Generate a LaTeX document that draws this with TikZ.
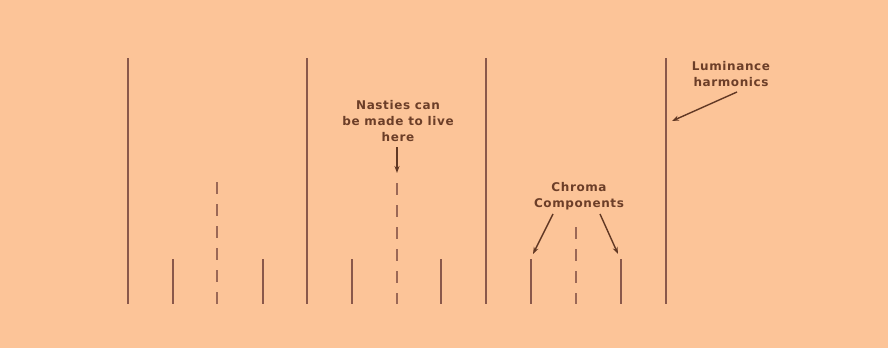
\documentclass[tikz,border=0pt]{standalone}
\usepackage{fontspec}
\newfontfamily\labfont[LetterSpace=5]{DejaVu Sans Bold}
\usetikzlibrary{arrows.meta}
\definecolor{bg}{RGB}{252,196,152}
\definecolor{ln}{RGB}{138,88,74}
\definecolor{tx}{RGB}{108,62,40}
\tikzset{
  harm/.style={draw=ln, line width=1.9pt},
  chrom/.style={draw=ln, line width=1.6pt},
  nasty/.style={draw=ln!85!bg, line width=1.9pt, dash pattern=on 12pt off 10pt},
  lab/.style={text=tx, font=\labfont\fontsize{12}{16}\selectfont, align=center, inner sep=0pt},
  ptr/.style={draw=tx!90!black, line width=1.4pt, -{Stealth[length=7pt,width=5pt]}}
}
\begin{document}
\begin{tikzpicture}[x=1pt,y=-1pt]
\fill[bg] (0,0) rectangle (888,348);
\useasboundingbox (0,0) rectangle (888,348);
% luminance harmonics
\foreach \n/\x in {h1/128,h2/307,h3/486,h4/666}{
  \coordinate (\n t) at (\x,58); \coordinate (\n b) at (\x,304);
  \draw[harm] (\n t) -- (\n b);
}
% chroma components
\foreach \n/\x in {c1/173,c2/263,c3/352,c4/441,c5/531,c6/621}{
  \coordinate (\n t) at (\x,259); \coordinate (\n b) at (\x,304);
  \draw[chrom] (\n t) -- (\n b);
}
% dashed (nasties)
\foreach \n/\x/\t in {d1/217/182,d2/397/183,d3/576/227}{
  \coordinate (\n t) at (\x,\t); \coordinate (\n b) at (\x,304);
  \draw[nasty] (\n t) -- (\n b);
}
% labels
\node[lab] (nasties) at (398,121) {Nasties can\\be made to live\\here};
\node[lab] (chroma) at (579,196) {Chroma\\Components};
\node[lab] (lum) at (731,74) {Luminance\\harmonics};
% pointers
\coordinate (na) at (397,147); \coordinate (nb) at (397,173);
\draw[ptr] (na) -- (nb);
\coordinate (ca1) at (553,214); \coordinate (cb1) at (533,254);
\draw[ptr] (ca1) -- (cb1);
\coordinate (ca2) at (600,214); \coordinate (cb2) at (618,254);
\draw[ptr] (ca2) -- (cb2);
\coordinate (la) at (737,92); \coordinate (lb) at (672,121);
\draw[ptr] (la) -- (lb);
\end{tikzpicture}
\end{document}
